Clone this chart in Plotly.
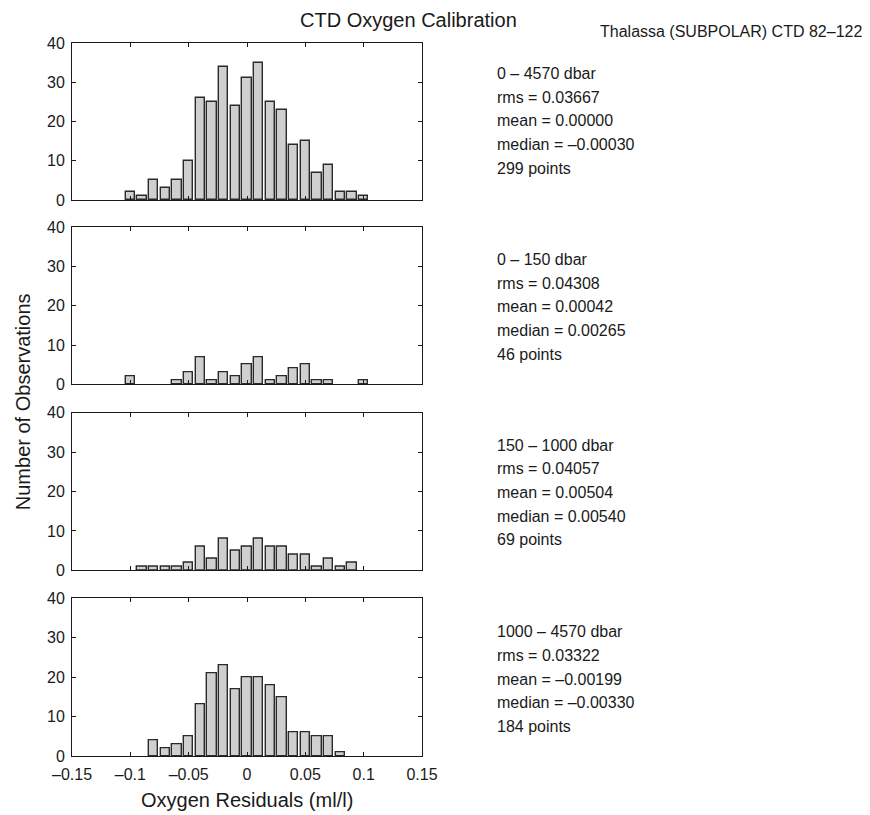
import plotly.graph_objects as go

# bin centres (ml/l)
bins = [-0.10, -0.09, -0.08, -0.07, -0.06, -0.05, -0.04, -0.03, -0.02, -0.01, 0.00,
        0.01, 0.02, 0.03, 0.04, 0.05, 0.06, 0.07, 0.08, 0.09, 0.10]

counts_all = [2, 1, 5, 3, 5, 10, 26, 25, 34, 24, 31, 35, 25, 23, 14, 15, 7, 9, 2, 2, 1]
counts_0_150 = [2, 0, 0, 0, 1, 3, 7, 1, 3, 2, 5, 7, 1, 2, 4, 5, 1, 1, 0, 0, 1]
counts_150_1000 = [0, 1, 1, 1, 1, 2, 6, 3, 8, 5, 6, 8, 6, 6, 4, 4, 1, 3, 1, 2, 0]
counts_1000_4570 = [0, 0, 4, 2, 3, 5, 13, 21, 23, 17, 20, 20, 18, 15, 6, 6, 5, 5, 1, 0, 0]

stats_all = ["0 – 4570 dbar", "rms = 0.03667", "mean = 0.00000", "median = –0.00030", "299 points"]
stats_0_150 = ["0 – 150 dbar", "rms = 0.04308", "mean = 0.00042", "median = 0.00265", "46 points"]
stats_150_1000 = ["150 – 1000 dbar", "rms = 0.04057", "mean = 0.00504", "median = 0.00540", "69 points"]
stats_1000_4570 = ["1000 – 4570 dbar", "rms = 0.03322", "mean = –0.00199", "median = –0.00330", "184 points"]

x_tickvals = [-0.15, -0.1, -0.05, 0, 0.05, 0.1, 0.15]
x_ticktext = ["–0.15", "–0.1", "–0.05", "0", "0.05", "0.1", "0.15"]
y_tickvals = [0, 10, 20, 30, 40]

title = "CTD Oxygen Calibration"
subtitle = "Thalassa (SUBPOLAR) CTD 82–122"
xlabel = "Oxygen Residuals (ml/l)"
ylabel = "Number of Observations"

panels = [counts_all, counts_0_150, counts_150_1000, counts_1000_4570]
stats = [stats_all, stats_0_150, stats_150_1000, stats_1000_4570]

W, H = 870, 815
ML, MR, MT, MB = 72, 448, 43, 59
PW = W - ML - MR
PH = H - MT - MB

def py(px):
    return (H - MB - px) / PH

def pyc(px):
    return min(1.0, max(0.0, py(px)))

def pxx(px):
    return (px - ML) / PW

# panel pixel extents (top, bottom)
extents = [(43.0, 200.0), (227.3, 384.3), (412.7, 570.3), (598.3, 756.0)]
# first text line centre per panel
text_top = [73.3, 259.3, 445.0, 631.7]
line_gap = 23.7

FONT = "Liberation Sans, Arial, Helvetica, sans-serif"
INK = "#1a1a1a"

fig = go.Figure()
layout = dict(
    width=W, height=H,
    margin=dict(l=ML, r=MR, t=MT, b=MB),
    paper_bgcolor="white", plot_bgcolor="white",
    showlegend=False,
    font=dict(family=FONT, size=16, color=INK),
    bargap=0,
)

annotations = []
for i, (cnts, st) in enumerate(zip(panels, stats)):
    n = i + 1
    xa = "x" if n == 1 else f"x{n}"
    ya = "y" if n == 1 else f"y{n}"
    fig.add_trace(go.Bar(
        x=bins, y=[c if c else None for c in cnts], width=0.0082,
        marker=dict(color="#cfcfcf", line=dict(color="#2a2a2a", width=1.4)),
        xaxis=xa, yaxis=ya, hoverinfo="x+y",
    ))
    top, bot = extents[i]
    layout["xaxis" if n == 1 else f"xaxis{n}"] = dict(
        domain=[0, 1], anchor=ya, range=[-0.15, 0.15],
        tickvals=x_tickvals, ticktext=x_ticktext,
        showticklabels=(n == 4), ticks="inside", ticklen=4, tickcolor=INK,
        showline=True, linecolor=INK, linewidth=1, mirror="ticks",
        showgrid=False, zeroline=False, ticklabelstandoff=4,
        tickfont=dict(size=16, color=INK, family=FONT),
    )
    layout["yaxis" if n == 1 else f"yaxis{n}"] = dict(
        domain=[pyc(bot), pyc(top)], anchor=xa, range=[0, 40],
        tickvals=y_tickvals, ticks="inside", ticklen=4, tickcolor=INK,
        showline=True, linecolor=INK, linewidth=1, mirror="ticks",
        showgrid=False, zeroline=False, ticklabelstandoff=3,
        tickfont=dict(size=16, color=INK, family=FONT),
    )
    for j, line in enumerate(st):
        annotations.append(dict(
            text=line, xref="paper", yref="paper",
            x=pxx(495), y=py(text_top[i] + j * line_gap),
            xanchor="left", yanchor="middle", showarrow=False,
            font=dict(size=16, color=INK, family=FONT),
        ))

annotations.append(dict(text=title, xref="paper", yref="paper",
                        x=pxx(408), y=py(20), xanchor="center", yanchor="middle",
                        showarrow=False, font=dict(size=20, color=INK, family=FONT)))
annotations.append(dict(text=subtitle, xref="paper", yref="paper",
                        x=pxx(598), y=py(32), xanchor="left", yanchor="middle",
                        showarrow=False, font=dict(size=16, color=INK, family=FONT)))
annotations.append(dict(text=xlabel, xref="paper", yref="paper",
                        x=pxx(247), y=py(800), xanchor="center", yanchor="middle",
                        showarrow=False, font=dict(size=20, color=INK, family=FONT)))
annotations.append(dict(text=ylabel, xref="paper", yref="paper",
                        x=pxx(22.5), y=py(401.7), xanchor="center", yanchor="middle",
                        textangle=-90, showarrow=False,
                        font=dict(size=20, color=INK, family=FONT)))
layout["annotations"] = annotations

fig.update_layout(**layout)
fig.write_html("out.html")
